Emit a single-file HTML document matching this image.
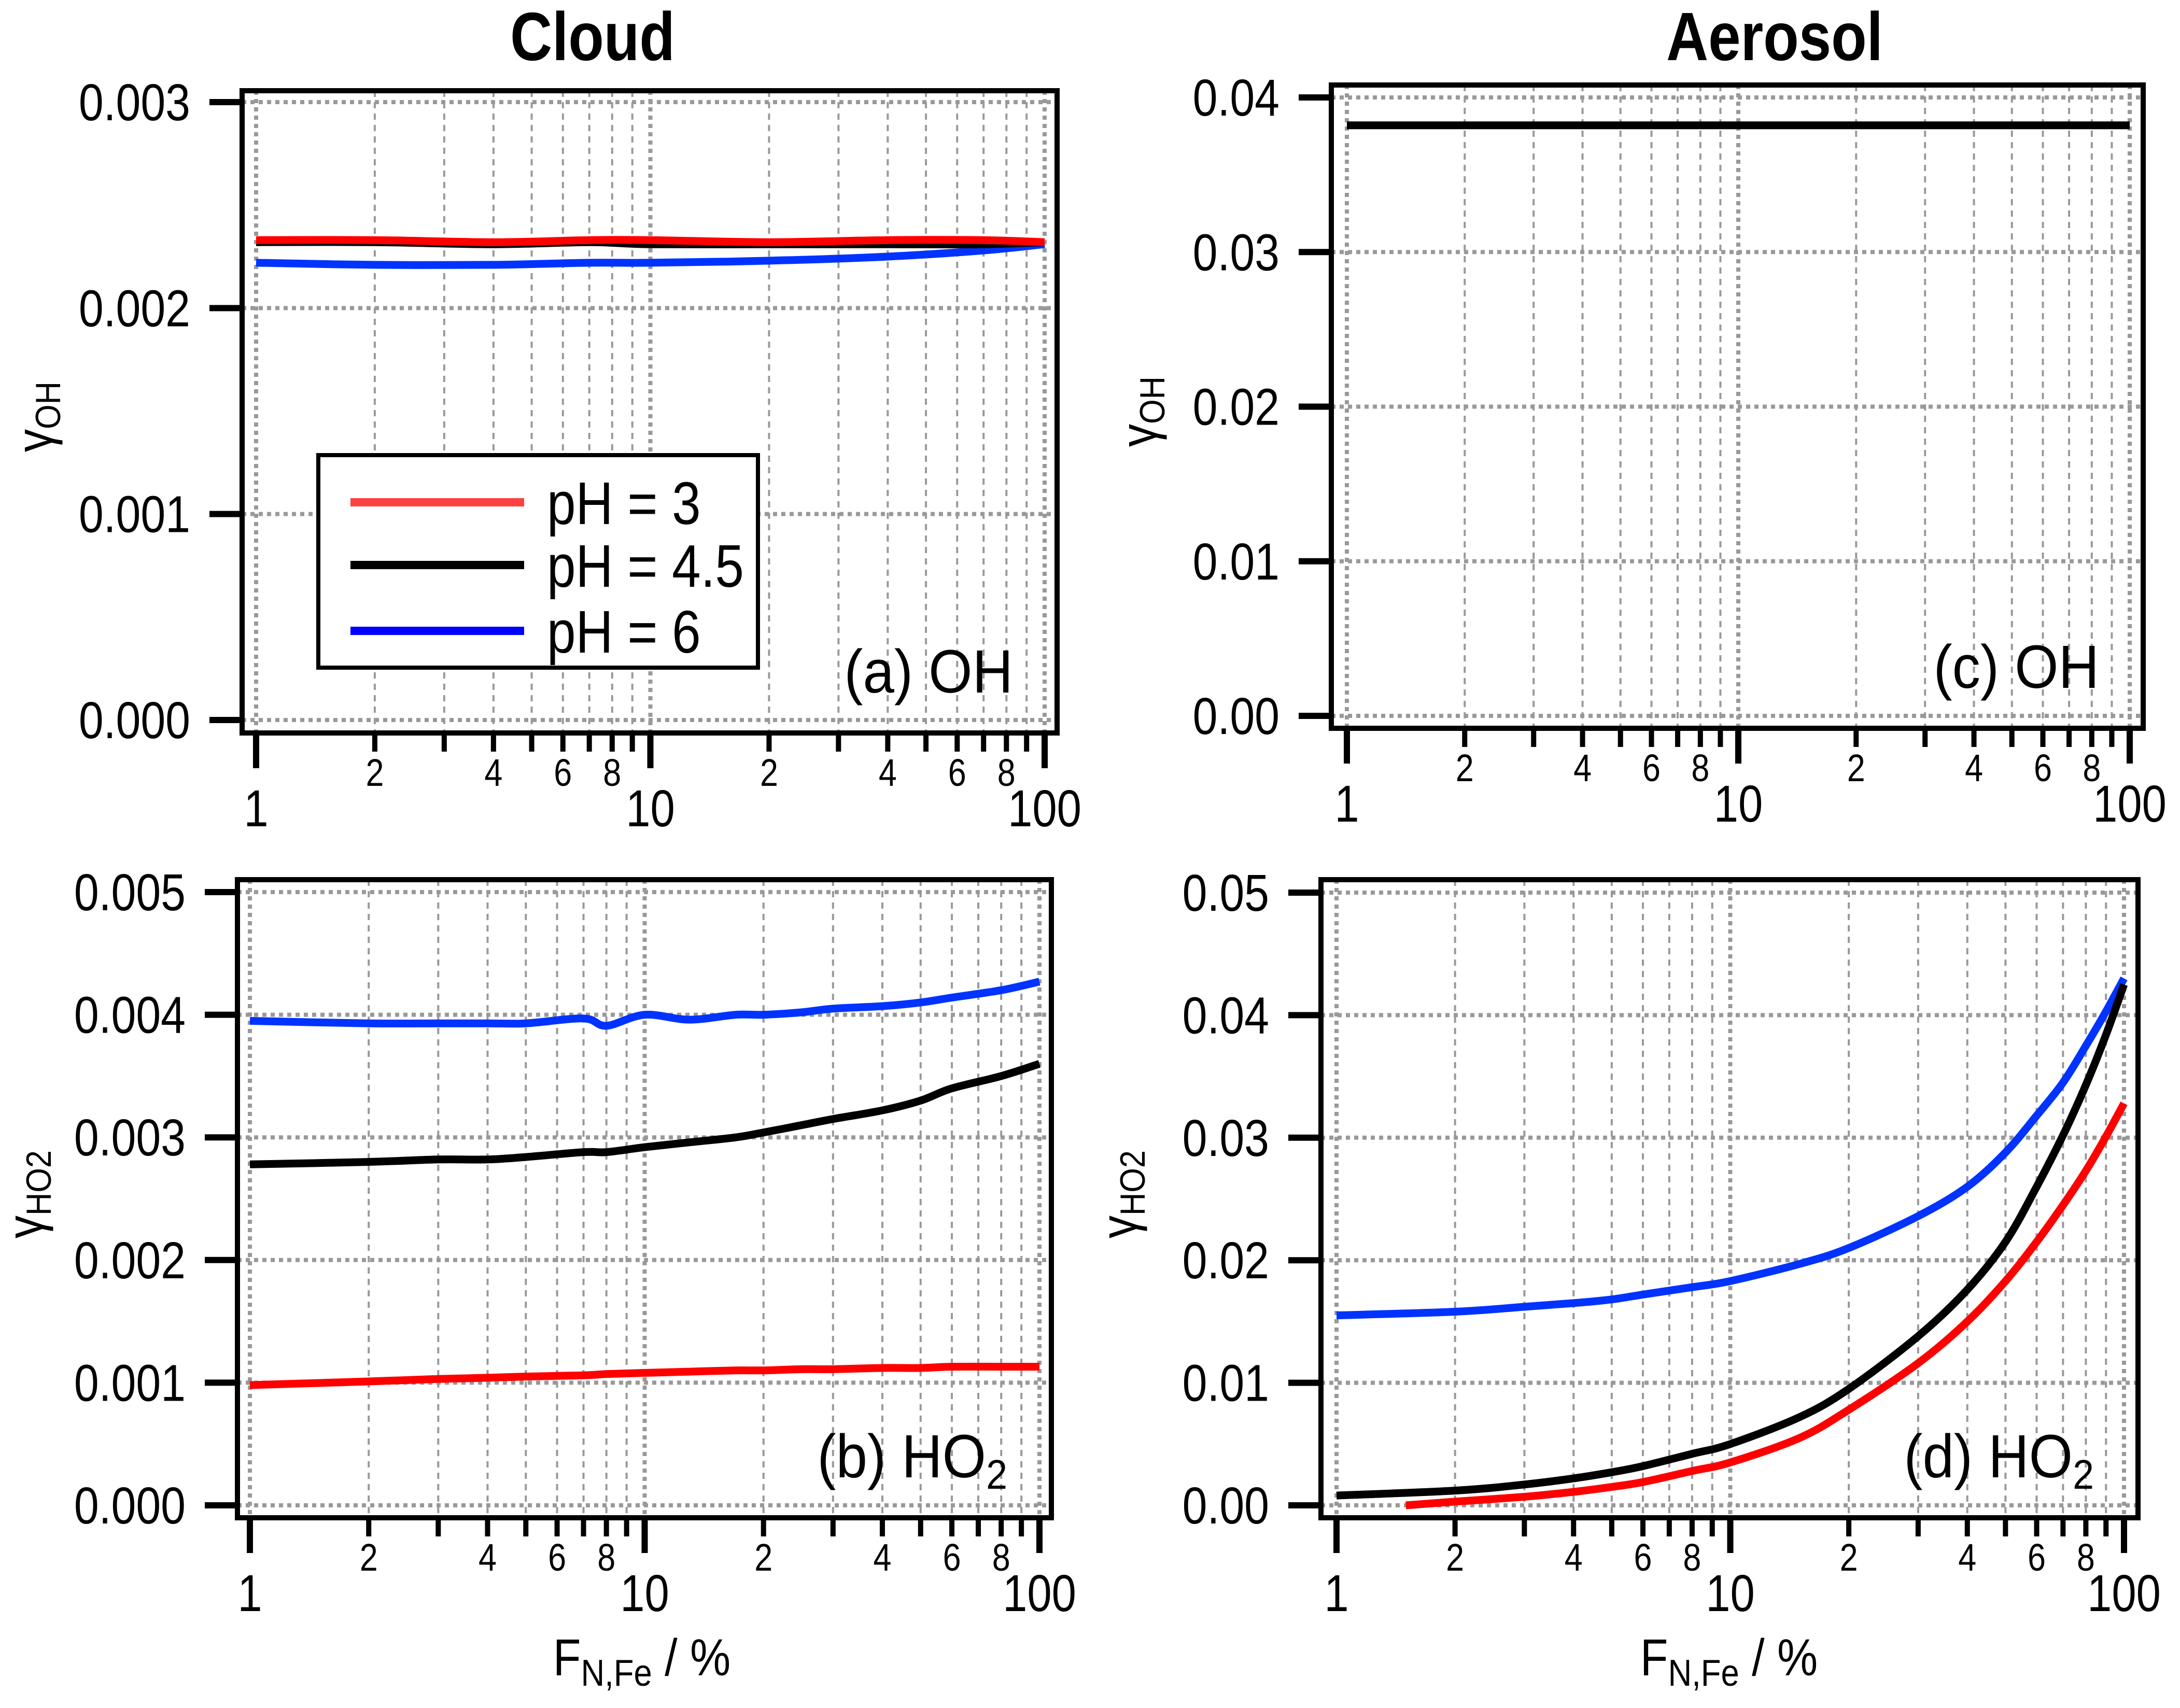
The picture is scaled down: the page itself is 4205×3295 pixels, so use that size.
<!DOCTYPE html>
<html><head><meta charset="utf-8"><style>html,body{margin:0;padding:0;background:#fff}svg{display:block}</style></head>
<body>
<svg id="fig" xmlns="http://www.w3.org/2000/svg" width="4205" height="3295" viewBox="0 0 4205 3295" font-family="Liberation Sans, sans-serif">
<text x="0" y="0" text-anchor="middle" font-size="132" font-weight="bold" transform="translate(1143,116) scale(0.85,1)">Cloud</text>
<text x="0" y="0" text-anchor="middle" font-size="132" font-weight="bold" transform="translate(3423,116) scale(0.85,1)">Aerosol</text>
</svg>
<script>
// ---- data ----
const aX = [1, 2, 4, 7, 10, 20, 40, 70, 100];
const aRed = [0.00233, 0.00233, 0.00232, 0.00233, 0.00233, 0.00232, 0.00233, 0.00233, 0.00232];
const aBlack = [0.00232, 0.00232, 0.00231, 0.00232, 0.00231, 0.00231, 0.00231, 0.00231, 0.00232];
const aBlue = [0.00222, 0.00221, 0.00221, 0.00222, 0.00222, 0.00223, 0.00225, 0.00228, 0.00231];
const bX = [1, 2, 3, 4, 5, 7, 8, 10, 13, 17, 20, 25, 30, 40, 50, 60, 80, 100];
const bBlue = [0.00395, 0.00393, 0.00393, 0.00393, 0.00393, 0.00397, 0.00391, 0.004, 0.00396, 0.004, 0.004, 0.00402, 0.00405, 0.00407, 0.0041, 0.00414, 0.0042, 0.00427];
const bBlack = [0.00278, 0.0028, 0.00282, 0.00282, 0.00284, 0.00288, 0.00288, 0.00292, 0.00296, 0.003, 0.00304, 0.0031, 0.00315, 0.00322, 0.0033, 0.0034, 0.0035, 0.0036];
const bRed = [0.00098, 0.00101, 0.00103, 0.00104, 0.00105, 0.00106, 0.00107, 0.00108, 0.00109, 0.0011, 0.0011, 0.00111, 0.00111, 0.00112, 0.00112, 0.00113, 0.00113, 0.00113];
const cX = [1, 10, 100];
const cBlack = [0.0382, 0.0382, 0.0382];
const dX = [1, 2, 3, 4, 5, 6, 8, 10, 15, 20, 30, 40, 50, 60, 70, 80, 90, 100];
const dBlue = [0.0155, 0.0158, 0.0162, 0.0165, 0.0168, 0.0172, 0.0178, 0.0183, 0.0197, 0.021, 0.0236, 0.026, 0.0288, 0.0318, 0.0345, 0.0375, 0.0403, 0.043];
const dBlack = [0.0008, 0.0012, 0.0017, 0.0022, 0.0027, 0.0032, 0.0042, 0.005, 0.0072, 0.0095, 0.0138, 0.0176, 0.0215, 0.026, 0.0302, 0.0343, 0.0384, 0.0425];
const dRedX = [1.5, 2, 3, 4, 5, 6, 8, 10, 15, 20, 30, 40, 50, 60, 70, 80, 90, 100];
const dRed = [0.0, 0.0003, 0.0007, 0.0011, 0.0015, 0.0019, 0.0028, 0.0035, 0.0055, 0.0078, 0.0116, 0.015, 0.0183, 0.0215, 0.0245, 0.0273, 0.0301, 0.0328];
const aTicks = ["0.000", "0.001", "0.002", "0.003"];
const bTicks = ["0.000", "0.001", "0.002", "0.003", "0.004", "0.005"];
const cTicks = ["0.00", "0.01", "0.02", "0.03", "0.04"];
const dTicks = ["0.00", "0.01", "0.02", "0.03", "0.04", "0.05"];

const NS = "http://www.w3.org/2000/svg";
const svg = document.getElementById("fig");
function mk(tag, attrs, parent) {
  const e = document.createElementNS(NS, tag);
  for (const k in attrs) e.setAttribute(k, attrs[k]);
  (parent || svg).appendChild(e);
  return e;
}
const RED = "#ff0000", BLUE = "#0033ff", BLACK = "#000000";

function smoothPath(P) {
  let d = "M" + P[0][0].toFixed(1) + "," + P[0][1].toFixed(1);
  for (let i = 0; i < P.length - 1; i++) {
    const p0 = P[Math.max(0, i - 1)], p1 = P[i], p2 = P[i + 1], p3 = P[Math.min(P.length - 1, i + 2)];
    const c1 = [p1[0] + (p2[0] - p0[0]) / 6, p1[1] + (p2[1] - p0[1]) / 6];
    const c2 = [p2[0] - (p3[0] - p1[0]) / 6, p2[1] - (p3[1] - p1[1]) / 6];
    d += " C" + c1.map(v => v.toFixed(1)).join(",") + " " + c2.map(v => v.toFixed(1)).join(",") + " " + p2.map(v => v.toFixed(1)).join(",");
  }
  return d;
}

function panel(cfg) {
  const g = mk("g", {});
  
  
  const xs = v => cfg.x1 + (Math.log10(v)) / 2 * (cfg.x100 - cfg.x1);
  const ys = v => cfg.y0 + (v / cfg.ymax) * (cfg.ytop - cfg.y0);
  for (let d = 0; d < 2; d++) for (let m = 2; m <= 9; m++) {
    const x = xs(m * Math.pow(10, d));
    const l = mk("line", {x1: x, x2: x, y1: cfg.top, y2: cfg.bottom, stroke: "#999", "stroke-width": 4, "stroke-dasharray": "12 10"}, g);
    
    
  }
  [1, 10, 100].forEach(v => {
    const x = xs(v);
    const l = mk("line", {x1: x, x2: x, y1: cfg.top, y2: cfg.bottom, stroke: "#999", "stroke-width": 8, "stroke-dasharray": "8 8"}, g);
    
    
  });
  cfg.ticks.forEach(t => {
    const y = ys(parseFloat(t));
    const l = mk("line", {x1: cfg.left, x2: cfg.right, y1: y, y2: y, stroke: "#999", "stroke-width": 8, "stroke-dasharray": "8 8"}, g);
    
    
    const tk = mk("line", {x1: cfg.left - 63, x2: cfg.left, y1: y, y2: y, stroke: "#000", "stroke-width": 12}, g);
    
    
    const tx = cfg.left - 100;
    const lab = mk("text", {x: 0, y: 0, "text-anchor": "end", "font-size": 100, transform: `translate(${tx},${y + 35}) scale(0.86,1)`}, g);
    lab.textContent = t;
    
    
  });
  cfg.series.forEach(s => {
    const P = s.x.map((v, i) => [xs(v), ys(s.y[i])]);
    const p = mk("path", {d: smoothPath(P), fill: "none", stroke: s.color, "stroke-width": 15, "stroke-linejoin": "round"}, g);
    
    
  });
  const fr = mk("rect", {x: cfg.left, y: cfg.top, width: cfg.right - cfg.left, height: cfg.bottom - cfg.top, fill: "none", stroke: "#000", "stroke-width": 10}, g);
  
  
  for (let d = 0; d < 2; d++) for (let m = 2; m <= 9; m++) {
    const x = xs(m * Math.pow(10, d));
    const t = mk("line", {x1: x, x2: x, y1: cfg.bottom, y2: cfg.bottom + 36, stroke: "#000", "stroke-width": 10}, g);
    
    
    if (m % 2 === 0) {
      const lab = mk("text", {x: 0, y: 0, "text-anchor": "middle", "font-size": 74, transform: `translate(${x},${cfg.bottom + 102}) scale(0.85,1)`}, g);
      lab.textContent = String(m);
      
      
    }
  }
  [1, 10, 100].forEach(v => {
    const x = xs(v);
    const t = mk("line", {x1: x, x2: x, y1: cfg.bottom, y2: cfg.bottom + 68, stroke: "#000", "stroke-width": 12}, g);
    
    
    const lab = mk("text", {x: 0, y: 0, "text-anchor": "middle", "font-size": 100, transform: `translate(${x},${cfg.bottom + 180}) scale(0.85,1)`}, g);
    lab.textContent = String(v);
    
    
  });
  const yt = mk("text", {x: 0, y: 0, "text-anchor": "middle", "font-size": 98, transform: `translate(${cfg.ytx},${cfg.yty}) rotate(-90) scale(0.9,1)`}, g);
  
  
  yt.innerHTML = `γ<tspan font-size="68" dy="16">${cfg.ysub}</tspan>`;
  const pl = mk("text", {x: 0, y: 0, "text-anchor": "end", "font-size": 118, transform: `translate(${cfg.right - 85},${cfg.bottom - 78}) scale(0.92,1)`}, g);
  
  
  pl.innerHTML = cfg.label;
  if (cfg.xtitle) {
    const xt = mk("text", {x: 0, y: 0, "text-anchor": "middle", "font-size": 100, transform: `translate(${cfg.xtx},3232) scale(0.88,1)`}, g);
    
    
    xt.innerHTML = `F<tspan font-size="72" dy="20">N,Fe</tspan><tspan dy="-20"> / %</tspan>`;
  }
}

panel({name: "panel-a-cloud-oh", left: 467, right: 2039, top: 175, bottom: 1414, x1: 494, x100: 2015, y0: 1389, ytop: 197, ymax: 0.003,
  ticks: aTicks, ysub: "OH", ytx: 100, yty: 804, label: "(a) OH",
  series: [{x: aX, y: aBlue, color: BLUE, name: "series-ph6"}, {x: aX, y: aBlack, color: BLACK, name: "series-ph4-5"}, {x: aX, y: aRed, color: RED, name: "series-ph3"}]});
panel({name: "panel-b-cloud-ho2", left: 458, right: 2028, top: 1697, bottom: 2928, x1: 482, x100: 2005, y0: 2904, ytop: 1721, ymax: 0.005,
  ticks: bTicks, ysub: "HO2", ytx: 82, yty: 2304, label: "(b) HO<tspan font-size='80' dy='22'>2</tspan>", xtitle: true, xtx: 1238,
  series: [{x: bX, y: bBlue, color: BLUE, name: "series-ph6"}, {x: bX, y: bBlack, color: BLACK, name: "series-ph4-5"}, {x: bX, y: bRed, color: RED, name: "series-ph3"}]});
panel({name: "panel-c-aerosol-oh", left: 2568, right: 4134, top: 164, bottom: 1405, x1: 2598, x100: 4108, y0: 1381, ytop: 188, ymax: 0.04,
  ticks: cTicks, ysub: "OH", ytx: 2230, yty: 794, label: "(c) OH",
  series: [{x: cX, y: cBlack, color: BLACK, name: "series-ph4-5"}]});
panel({name: "panel-d-aerosol-ho2", left: 2548, right: 4124, top: 1697, bottom: 2928, x1: 2578, x100: 4097, y0: 2904, ytop: 1722, ymax: 0.05,
  ticks: dTicks, ysub: "HO2", ytx: 2192, yty: 2304, label: "(d) HO<tspan font-size='80' dy='22'>2</tspan>", xtitle: true, xtx: 3335,
  series: [{x: dX, y: dBlue, color: BLUE, name: "series-ph6"}, {x: dX, y: dBlack, color: BLACK, name: "series-ph4-5"}, {x: dRedX, y: dRed, color: RED, name: "series-ph3"}]});

const lg = mk("g", {});


const lb = mk("rect", {x: 614, y: 878, width: 848, height: 410, fill: "#fff", stroke: "#000", "stroke-width": 8}, lg);


const legLabels = ["pH = 3", "pH = 4.5", "pH = 6"];
const legColors = ["#ff4040", "#000000", "#0000ff"];
const legY = [969, 1090, 1217];
legLabels.forEach((t, i) => {
  const l = mk("line", {x1: 676, x2: 1011, y1: legY[i], y2: legY[i], stroke: legColors[i], "stroke-width": 16}, lg);
  
  
  const tx = mk("text", {x: 0, y: 0, "font-size": 116, transform: `translate(1055,${legY[i] + 42}) scale(0.86,1)`}, lg);
  tx.textContent = t;
  
  
});
</script>
</body></html>
